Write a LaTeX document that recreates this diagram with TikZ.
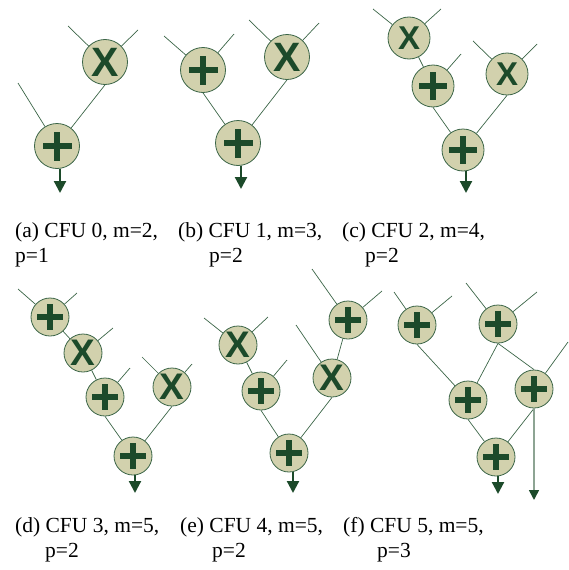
\documentclass[tikz,border=0pt]{standalone}
\usepackage{fontspec}
\setmainfont{Liberation Serif}
\newfontfamily\symfont{Liberation Sans}
\usetikzlibrary{arrows.meta}
\definecolor{fillc}{HTML}{D2D1AD}
\definecolor{linec}{HTML}{3B6547}
\definecolor{symc}{HTML}{1C4A2A}
\definecolor{grayc}{HTML}{8DA493}
\tikzset{
  op/.style={circle, fill=fillc, draw=linec, line width=0.8pt, inner sep=0pt},
  bigop/.style={op, minimum size=45pt},
  midop/.style={op, minimum size=42pt},
  smallop/.style={op, minimum size=38pt},
  plusmark/.style 2 args={path picture={
    \fill[symc] ([xshift=-#1, yshift=-#2]path picture bounding box.center) rectangle ([xshift=#1, yshift=#2]path picture bounding box.center);
    \fill[symc] ([xshift=-#2, yshift=-#1]path picture bounding box.center) rectangle ([xshift=#2, yshift=#1]path picture bounding box.center);}},
  bigplus/.style={bigop, plusmark={14.5pt}{3pt}},
  midplus/.style={midop, plusmark={13.8pt}{2.8pt}},
  smallplus/.style={smallop, plusmark={13pt}{2.7pt}},
  xtext/.style={font=\symfont\bfseries\fontsize{#1}{#1}\selectfont, text=symc},
  bigx/.style={bigop, xtext=41pt},
  midx/.style={midop, xtext=33pt},
  smallx/.style={smallop, xtext=37pt},
  conn/.style={draw=linec, line width=0.7pt},
  outarrow/.style={draw=symc, line width=2.2pt, -{Triangle[length=12pt,width=12pt]}},
  longarrow/.style={draw=grayc, line width=1.6pt, -{Triangle[length=10pt,width=10pt,color=symc]}},
  captext/.style={anchor=base west, inner sep=0pt, font=\fontsize{21.5}{25}\selectfont}
}
\begin{document}
\begin{tikzpicture}[x=1pt, y=-1pt]
\useasboundingbox (0,0) rectangle (569,570);

% (a)
\node[bigx] (a1) at (105,62) {X};
\node[bigplus] (a2) at (57,146) {};
\coordinate (a1i1) at (68,26); \coordinate (a1i2) at (138,30);
\coordinate (a2i1) at (18,83); \coordinate (aout) at (60,193);
\draw[conn] (a1i1) -- (a1); \draw[conn] (a1i2) -- (a1);
\draw[conn] (a2i1) -- (a2); \draw[conn] (a1.south) -- (a2);
\draw[outarrow] (a2.south -| aout) -- (aout);

% (b)
\node[bigplus] (b1) at (203,70) {};
\node[bigx] (b2) at (287,57) {X};
\node[bigplus] (b3) at (238,143) {};
\coordinate (b1i1) at (164,36); \coordinate (b1i2) at (234,34);
\coordinate (b2i1) at (249,20); \coordinate (b2i2) at (319,23);
\coordinate (bout) at (241,189);
\draw[conn] (b1i1) -- (b1); \draw[conn] (b1i2) -- (b1);
\draw[conn] (b2i1) -- (b2); \draw[conn] (b2i2) -- (b2);
\draw[conn] (b1.south) -- (b3); \draw[conn] (b2.south) -- (b3);
\draw[outarrow] (b3.south -| bout) -- (bout);

% (c)
\node[midx] (c1) at (409,38) {X};
\node[midplus] (c2) at (433,86) {};
\node[midx] (c3) at (507,74) {X};
\node[midplus] (c4) at (463,150) {};
\coordinate (c1i1) at (373,9); \coordinate (c1i2) at (441,9);
\coordinate (c2i1) at (461,54);
\coordinate (c3i1) at (473,41); \coordinate (c3i2) at (537,44);
\coordinate (cout) at (466,193);
\draw[conn] (c1i1) -- (c1); \draw[conn] (c1i2) -- (c1);
\draw[conn] (c2i1) -- (c2);
\draw[conn] (c3i1) -- (c3); \draw[conn] (c3i2) -- (c3);
\draw[conn] (c1) -- (c2); \draw[conn] (c2.south) -- (c4); \draw[conn] (c3.south) -- (c4);
\draw[outarrow] (c4.south -| cout) -- (cout);

% (d)
\node[smallplus] (d1) at (50,317) {};
\node[smallx] (d2) at (83,353) {X};
\node[smallplus] (d3) at (105,397) {};
\node[smallx] (d4) at (172,387) {X};
\node[smallplus] (d5) at (133,456) {};
\coordinate (d1i1) at (18,289); \coordinate (d1i2) at (77,293);
\coordinate (d2i1) at (113,328);
\coordinate (d3i1) at (130,368);
\coordinate (d4i1) at (142,357); \coordinate (d4i2) at (192,364);
\coordinate (dout) at (135,493);
\draw[conn] (d1i1) -- (d1); \draw[conn] (d1i2) -- (d1);
\draw[conn] (d2i1) -- (d2); \draw[conn] (d3i1) -- (d3);
\draw[conn] (d4i1) -- (d4); \draw[conn] (d4i2) -- (d4);
\draw[conn] (d1) -- (d2); \draw[conn] (d2) -- (d3);
\draw[conn] (d3.south) -- (d5); \draw[conn] (d4.south) -- (d5);
\draw[outarrow] (d5.south -| dout) -- (dout);

% (e)
\node[smallx] (e1) at (238,345) {X};
\node[smallplus] (e2) at (261,391) {};
\node[smallplus] (e3) at (348,320) {};
\node[smallx] (e4) at (332,378) {X};
\node[smallplus] (e5) at (289,453) {};
\coordinate (e1i1) at (204,318); \coordinate (e1i2) at (268,317);
\coordinate (e2i1) at (287,360);
\coordinate (e3i1) at (312,269); \coordinate (e3i2) at (382,291);
\coordinate (e4i1) at (296,325);
\coordinate (eout) at (293,493);
\draw[conn] (e1i1) -- (e1); \draw[conn] (e1i2) -- (e1);
\draw[conn] (e2i1) -- (e2);
\draw[conn] (e3i1) -- (e3); \draw[conn] (e3i2) -- (e3);
\draw[conn] (e4i1) -- (e4);
\draw[conn] (e1) -- (e2); \draw[conn] (e3) -- (e4);
\draw[conn] (e2.south) -- (e5); \draw[conn] (e4.south) -- (e5);
\draw[outarrow] (e5.south -| eout) -- (eout);

% (f)
\node[smallplus] (f1) at (417,325) {};
\node[smallplus] (f2) at (498,324) {};
\node[smallplus] (f3) at (468,400) {};
\node[smallplus] (f4) at (534,389) {};
\node[smallplus] (f5) at (496,457) {};
\coordinate (f1i1) at (394,292); \coordinate (f1i2) at (452,296);
\coordinate (f2i1) at (466,283); \coordinate (f2i2) at (537,292);
\coordinate (f4i1) at (568,342);
\coordinate (fout) at (498,494);
\coordinate (fout2) at (534,500);
\draw[conn] (f1i1) -- (f1); \draw[conn] (f1i2) -- (f1);
\draw[conn] (f2i1) -- (f2); \draw[conn] (f2i2) -- (f2);
\draw[conn] (f4i1) -- (f4);
\draw[conn] (f1.south) -- (f3); \draw[conn] (f2.south) -- (f3); \draw[conn] (f2.south) -- (f4.north);
\draw[conn] (f3.south) -- (f5); \draw[conn] (f4.south) -- (f5);
\draw[outarrow] (f5.south -| fout) -- (fout);
\draw[longarrow] (f4.south) -- (fout2);

% captions
\node[captext] (ca1) at (15,237) {(a) CFU 0, m=2,};
\node[captext] (ca2) at (15,262) {p=1};
\node[captext] (cb1) at (178,237) {(b) CFU 1, m=3,};
\node[captext] (cb2) at (209,262) {p=2};
\node[captext] (cc1) at (342,237) {(c) CFU 2, m=4,};
\node[captext] (cc2) at (365,262) {p=2};
\node[captext] (cd1) at (15,532) {(d) CFU 3, m=5,};
\node[captext] (cd2) at (45,557) {p=2};
\node[captext] (ce1) at (180,532) {(e) CFU 4, m=5,};
\node[captext] (ce2) at (212,557) {p=2};
\node[captext] (cf1) at (343,532) {(f) CFU 5, m=5,};
\node[captext] (cf2) at (377,557) {p=3};
\end{tikzpicture}
\end{document}
